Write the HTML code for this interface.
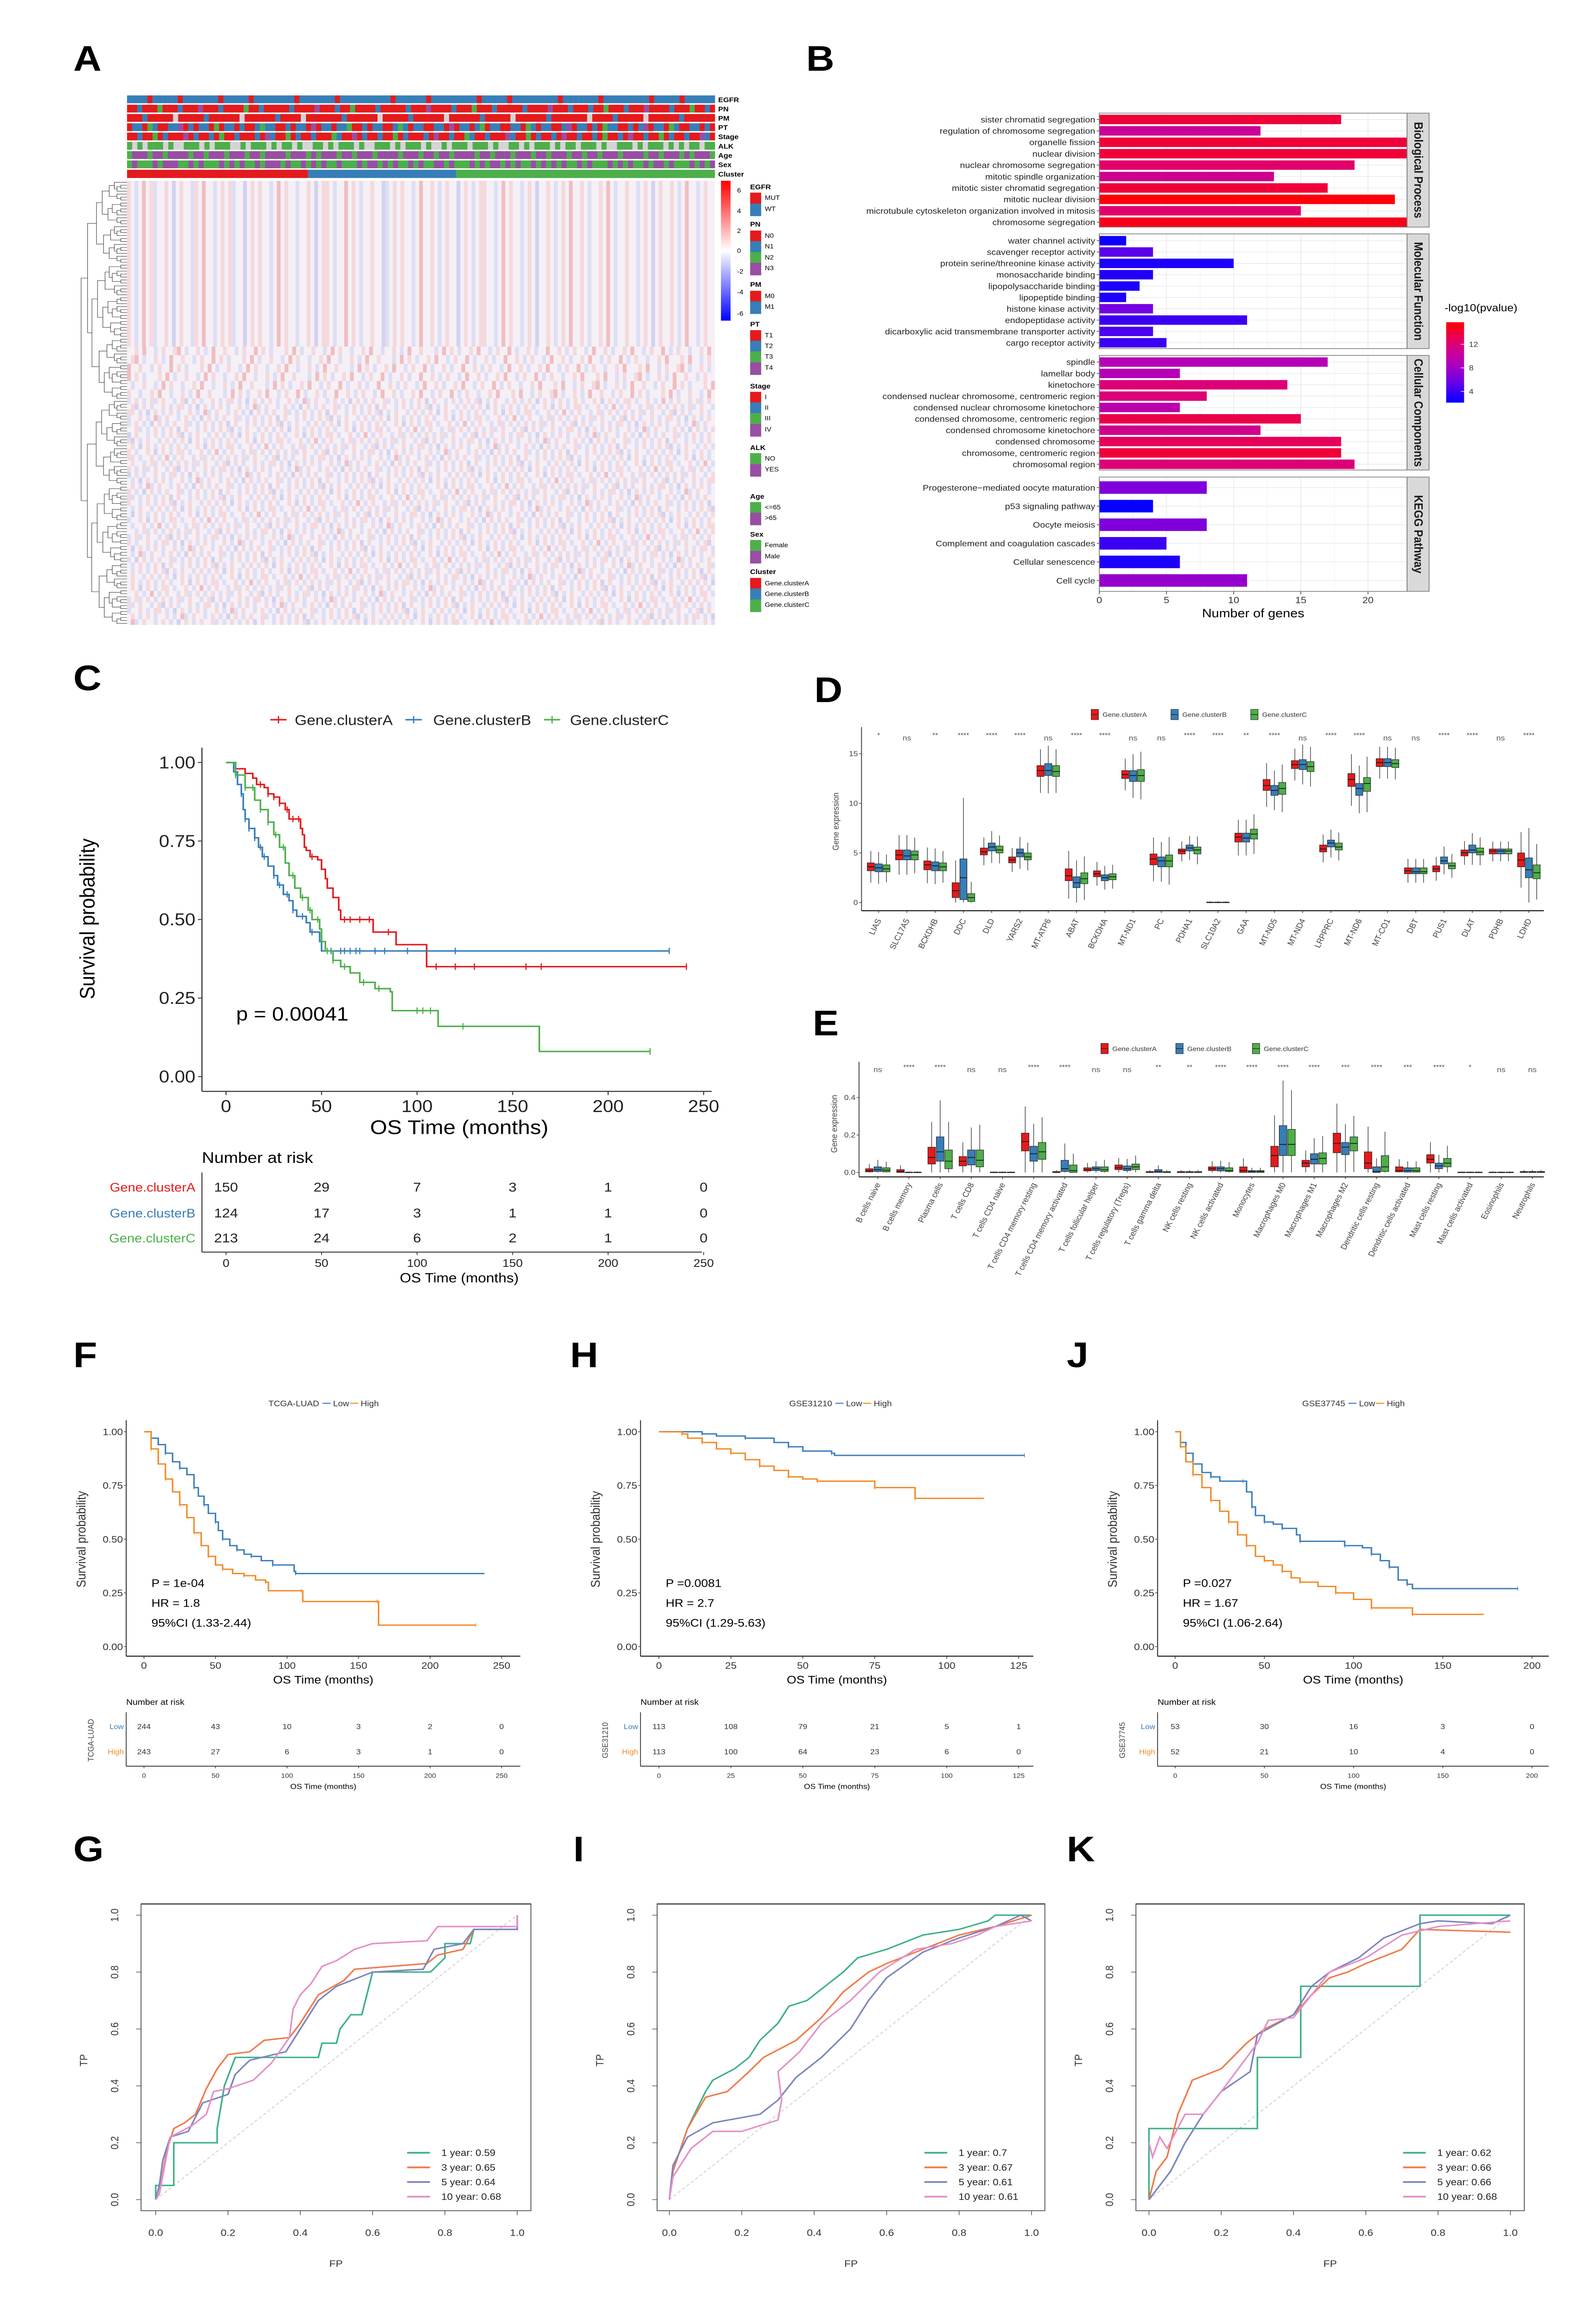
<!DOCTYPE html>
<html><head><meta charset="utf-8">
<style>
html,body{margin:0;padding:0;background:#fff;width:100%;height:100%;overflow:hidden}
svg{display:block;position:absolute;left:0;top:0;width:100vw;height:100vh}
text{font-family:"Liberation Sans",sans-serif}
</style></head>
<body>
<svg id="fig" xmlns="http://www.w3.org/2000/svg" width="100%" height="100%" viewBox="0 0 980 1567" preserveAspectRatio="none">
<defs>
<linearGradient id="hmGrad" x1="0" y1="0" x2="0" y2="1">
<stop offset="0" stop-color="#ff0000"/><stop offset="0.5" stop-color="#ffffff"/><stop offset="1" stop-color="#0000ff"/>
</linearGradient>
<linearGradient id="pvGrad" x1="0" y1="0" x2="0" y2="1">
<stop offset="0" stop-color="#ff0000"/><stop offset="0.25" stop-color="#e00070"/><stop offset="0.5" stop-color="#b400b8"/><stop offset="0.75" stop-color="#6a00e8"/><stop offset="1" stop-color="#0000ff"/>
</linearGradient>
</defs>
<rect x="0" y="0" width="980" height="1567" fill="#ffffff"/>
</svg>
<script>
// ================= DATA =================
// Panel A annotations
const annRows=['EGFR','PN','PM','PT','Stage','ALK','Age','Sex'];
const annCodes=[
"bbbbrbbbbbrbbbbbbbrbbbbbrbbbbbbbbrbbbbbbbrbbbbbbbbbbrbbbbbbrbbbbbbbbbrbbbbbrbbbbbbbbbrbbbbbbbrbbbbbbbbbrbbbbbrbbbbbb",
"rrbrrrgrrrbrrrprrrbrrrrgrrbrrrrrbrrrrprrrbrrgrrrrbrrrrrbrrrprrrrbrrrgrrrbrrrrrbrrrrprrrbrrrbrrgrrrbrrrprrrrbrrrgrrbr",
"rrrbrrrrrwrrrrrbrrrrrrwrrrrrrbrrrrwrrrrrrrbrrrrrrwrrrrrbrrrrrrwrrrrrrbrrrrrwrrrrrrbrrrrrrrwrrrrbrrrrrwrrrrrrbrrrrrr",
"rbbrgbrrbbprbrbbrgrbbrbrrbgbbrrbrbbrprbbrbbgrrbrbbrrbgbrbbrrbbrprbbrbgrbbrrbbrgbrbbrrbprbbrbrgbbrrbrbprbbrgbrrbbrbr",
"rrbrrgrbrrrprbrrbrgrrbrrrbrpbrrgrbrrbrrrgbrrprbrrbrrgrbrrrbrprrbrrgbrrbrrrpbrrgrbrrbrprrbrrbrgrrbrprrbrrgrbrrbrrpbr",
"gwgwgggwgwwgggwgwgggwwgwgggwgwggwgwwggwgwgggwgwwgggwgwgggwgwwgwgggwgggwgwwggwgwgggwgwggwgggwgwwgggwgwgggwgwgwggwgg",
"gpppgppgppppgppgpppgpppgppgppppgpppgpgpppgppgpppgppppgpppgppgppgppppgppgpppgpppgppgpppgppgppgpppgppppgppgpppgpgpppg",
"gpgggpgpppggpgpgggpgpgpggpgpppgpggpgpgpggpgggpgppgpgpggpgpggppgpgggpgpgppgpgpggpgpgpgpggpgpgggpgpgpggpgppgpgggpgpgp"
];
const clusterSplits=[0,0.308,0.56,1];
// heatmap texture (column tint codes, not readable data)
const hmBandA="r.b.R.rb..r.B.r..br.R..b.r.rb..B.r.r..b.R.r..b..r.B.rr.b..R.r.b..r..Bb.r.r..b.R..r.b.r..B.r.b.rr..b.R.r..b.r.B..r.b.r.R..r.b..r.R.b..r..b.r.B.r..r.b.R..b.r..";
const hmBandB="..r.R..b.r..rR.b..r.b.R..r..b.r..R.r.b...r.R.b..r..b.R.r..b..r.R..b..r.b.R..r...b.R.r.b..r.R..b.r..R.b..r.b..R..r.b.r..b.R..r.b..r.R..b.r..R.b.r..b..r.R.";
const hmBandC="b.r.b.rb.r..b.rB.r.b..r.b.rr.b.B.r.b.r.b..r.b.Rb.r..b.r.b.B.r.b.r..rb.b.r.b.r.B.r..b.r.b.r.rB.b.r..b.r.b.r.B.r.b.r.b.r.b..r.B.r.b.rr.b..r.b.R.b.r..b.rb.r.";

// Panel B
const bpTerms=['sister chromatid segregation','regulation of chromosome segregation','organelle fission','nuclear division','nuclear chromosome segregation','mitotic spindle organization','mitotic sister chromatid segregation','mitotic nuclear division','microtubule cytoskeleton organization involved in mitosis','chromosome segregation'];
const bpCounts=[18,12,23,23,19,13,17,22,15,23];
const bpLogp=[14,10.5,14,14,12.5,11,14,15.5,12.5,15];
const mfTerms=['water channel activity','scavenger receptor activity','protein serine/threonine kinase activity','monosaccharide binding','lipopolysaccharide binding','lipopeptide binding','histone kinase activity','endopeptidase activity','dicarboxylic acid transmembrane transporter activity','cargo receptor activity'];
const mfCounts=[2,4,10,4,3,2,4,11,4,5];
const mfLogp=[2.5,5,3,3.2,3,3,6,4,4.5,4];
const ccTerms=['spindle','lamellar body','kinetochore','condensed nuclear chromosome, centromeric region','condensed nuclear chromosome kinetochore','condensed chromosome, centromeric region','condensed chromosome kinetochore','condensed chromosome','chromosome, centromeric region','chromosomal region'];
const ccCounts=[17,6,14,8,6,15,12,18,18,19];
const ccLogp=[9,9,12,12,9.5,13.5,11,13,14,12];
const keggTerms=['Progesterone\u2212mediated oocyte maturation','p53 signaling pathway','Oocyte meiosis','Complement and coagulation cascades','Cellular senescence','Cell cycle'];
const keggCounts=[8,4,8,5,6,11];
const keggLogp=[6.5,2.3,6.5,4,3,7.5];
const bTicks=[0,5,10,15,20];
const pvTicks=[4,8,12];

// Panel C
const cTicks=[0,50,100,150,200,250];
const cYTicks=[0,0.25,0.5,0.75,1];
const cA=[[0,1],[5,0.98],[10,0.965],[14,0.95],[16,0.93],[20,0.92],[22,0.9],[25,0.89],[28,0.87],[31,0.85],[33,0.82],[38,0.82],[39,0.79],[40,0.77],[41,0.73],[42,0.72],[44,0.7],[48,0.69],[50,0.66],[52,0.63],[53,0.6],[56,0.57],[59,0.53],[60,0.5],[76,0.5],[77,0.46],[88,0.46],[89,0.42],[104,0.42],[105,0.35],[241,0.35]];
const cB=[[0,1],[4,0.97],[6,0.93],[8,0.9],[9,0.85],[10,0.82],[12,0.79],[15,0.76],[17,0.73],[19,0.7],[22,0.67],[25,0.64],[27,0.61],[30,0.58],[33,0.56],[35,0.53],[37,0.51],[42,0.49],[44,0.46],[49,0.43],[50,0.4],[232,0.4]];
const cC=[[0,1],[5,0.96],[10,0.92],[15,0.88],[18,0.85],[22,0.81],[25,0.77],[28,0.73],[31,0.68],[33,0.64],[36,0.6],[39,0.57],[43,0.53],[45,0.5],[49,0.47],[50,0.43],[52,0.4],[56,0.37],[60,0.35],[65,0.33],[70,0.3],[78,0.28],[86,0.27],[87,0.21],[110,0.21],[111,0.16],[163,0.16],[164,0.08],[222,0.08]];
const cCensA=[18,22,25,28,32,35,38,45,62,65,70,75,85,110,120,130,157,165,241];
const cCensB=[8,10,12,15,18,20,25,28,32,35,40,45,55,60,62,65,68,70,78,83,95,120,232];
const cCensC=[5,10,14,18,22,26,30,35,40,44,48,53,56,62,72,80,100,103,107,124,222];
const cRiskA=[150,29,7,3,1,0];
const cRiskB=[124,17,3,1,1,0];
const cRiskC=[213,24,6,2,1,0];

// Panel D
const dGenes=['LIAS','SLC17A5','BCKDHB','DDC','DLD','YARS2','MT-ATP6','ABAT','BCKDHA','MT-ND1','PC','PDHA1','SLC10A2','GAA','MT-ND5','MT-ND4','LRPPRC','MT-ND6','MT-CO1','DBT','PUS1','DLAT','PDHB','LDHD'];
const dMedA=[3.6,4.8,3.8,1.2,5.1,4.3,13.3,2.7,2.9,12.9,4.4,5.2,0,6.6,11.8,13.9,5.4,12.4,14.1,3.2,3.4,5.0,5.2,4.3];
const dMedB=[3.5,4.7,3.7,2.5,5.6,5.0,13.3,2.0,2.5,12.8,4.2,5.5,0,6.5,11.3,13.9,6.0,11.5,14.1,3.1,4.2,5.3,5.2,3.3];
const dMedC=[3.4,4.8,3.6,0.5,5.3,4.6,13.2,2.4,2.6,12.8,4.2,5.3,0,6.9,11.5,13.7,5.6,12.0,14.0,3.1,3.7,5.1,5.2,3.0];
const dQ1A=[3.2,4.3,3.3,0.5,4.8,4.0,12.7,2.2,2.6,12.5,3.8,4.9,0,6.1,11.3,13.5,5.1,11.7,13.7,2.9,3.1,4.7,4.9,3.6];
const dQ3A=[4.0,5.3,4.2,2.0,5.5,4.6,13.8,3.4,3.2,13.3,4.9,5.4,0.05,7.0,12.4,14.3,5.8,13.0,14.5,3.5,3.7,5.3,5.4,5.0];
const dQ1B=[3.1,4.3,3.2,0.3,5.2,4.6,12.8,1.5,2.2,12.2,3.6,5.2,0,6.1,10.8,13.4,5.6,10.8,13.7,2.9,3.9,5.0,4.9,2.5];
const dQ3B=[3.9,5.3,4.1,4.4,6.0,5.4,14.0,2.6,2.8,13.3,4.6,5.8,0.05,7.0,11.8,14.4,6.3,12.0,14.5,3.5,4.6,5.8,5.4,4.5];
const dQ1C=[3.1,4.3,3.2,0.1,5.0,4.3,12.7,1.9,2.3,12.2,3.6,4.9,0,6.4,10.9,13.2,5.3,11.2,13.6,2.9,3.4,4.8,4.9,2.4];
const dQ3C=[3.8,5.2,4.0,0.9,5.7,5.0,13.8,3.0,2.9,13.4,4.8,5.6,0.05,7.4,12.1,14.2,6.0,12.6,14.4,3.5,4.0,5.5,5.4,3.8];
const dSig=['*','ns','**','****','****','****','ns','****','****','ns','ns','****','****','**','****','ns','****','****','ns','ns','****','****','ns','****'];
const dTicks=[0,5,10,15];

// Panel E
const eCells=['B cells naive','B cells memory','Plasma cells','T cells CD8','T cells CD4 naive','T cells CD4 memory resting','T cells CD4 memory activated','T cells follicular helper','T cells regulatory (Tregs)','T cells gamma delta','NK cells resting','NK cells activated','Monocytes','Macrophages M0','Macrophages M1','Macrophages M2','Dendritic cells resting','Dendritic cells activated','Mast cells resting','Mast cells activated','Eosinophils','Neutrophils'];
const eMedA=[0.01,0.005,0.08,0.06,0,0.165,0,0.015,0.025,0,0,0.02,0.01,0.09,0.05,0.155,0.05,0.01,0.07,0,0,0.002];
const eMedB=[0.015,0,0.11,0.08,0,0.10,0.02,0.02,0.02,0.005,0,0.02,0.005,0.15,0.07,0.135,0.005,0.01,0.035,0,0,0.002];
const eMedC=[0.012,0,0.06,0.065,0,0.11,0.01,0.015,0.03,0,0,0.01,0.005,0.15,0.075,0.155,0.03,0.01,0.05,0,0,0.002];
const eQ1A=[0.003,0,0.045,0.035,0,0.115,0,0.008,0.015,0,0,0.01,0,0.03,0.03,0.105,0.02,0.003,0.05,0,0,0];
const eQ3A=[0.02,0.015,0.135,0.085,0.002,0.21,0.005,0.025,0.04,0.005,0.005,0.03,0.03,0.14,0.065,0.21,0.11,0.03,0.095,0.002,0.002,0.005];
const eQ1B=[0.005,0,0.06,0.04,0,0.06,0.005,0.01,0.01,0,0,0.008,0,0.09,0.045,0.095,0,0.002,0.02,0,0,0];
const eQ3B=[0.03,0.002,0.19,0.12,0.002,0.14,0.065,0.03,0.035,0.015,0.005,0.03,0.01,0.25,0.1,0.16,0.03,0.025,0.05,0.002,0.002,0.005];
const eQ1C=[0.003,0,0.02,0.03,0,0.07,0,0.005,0.015,0,0,0.005,0,0.09,0.045,0.115,0.005,0.002,0.03,0,0,0];
const eQ3C=[0.025,0.002,0.12,0.12,0.002,0.16,0.04,0.03,0.045,0.005,0.005,0.025,0.01,0.23,0.105,0.19,0.09,0.025,0.075,0.002,0.002,0.005];
const eSig=['ns','****','****','ns','ns','****','****','ns','ns','**','**','****','****','****','****','***','****','***','****','*','ns','ns'];
const eTicks=[0,0.2,0.4];

// Panels F/H/J
const fLow=[[0,1],[5,0.97],[10,0.94],[15,0.9],[20,0.86],[25,0.83],[30,0.8],[35,0.74],[38,0.7],[42,0.66],[45,0.62],[50,0.58],[52,0.54],[55,0.5],[60,0.47],[65,0.45],[70,0.43],[75,0.42],[82,0.4],[90,0.38],[105,0.35],[106,0.34],[238,0.34]];
const fHigh=[[0,1],[5,0.92],[10,0.85],[15,0.78],[20,0.72],[25,0.66],[30,0.6],[35,0.53],[40,0.47],[45,0.42],[50,0.38],[55,0.36],[62,0.34],[70,0.33],[78,0.31],[85,0.3],[87,0.26],[110,0.26],[111,0.21],[163,0.21],[164,0.1],[232,0.1]];
const hLow=[[0,1],[15,0.99],[20,0.98],[30,0.97],[40,0.95],[45,0.93],[50,0.91],[60,0.9],[61,0.89],[127,0.89]];
const hHigh=[[0,1],[8,0.99],[10,0.97],[15,0.95],[20,0.92],[25,0.9],[30,0.87],[35,0.84],[40,0.82],[45,0.79],[50,0.78],[55,0.77],[70,0.77],[75,0.74],[88,0.74],[89,0.69],[113,0.69]];
const jLow=[[0,1],[3,0.95],[6,0.9],[10,0.85],[15,0.81],[20,0.79],[25,0.77],[38,0.77],[40,0.72],[43,0.65],[45,0.61],[50,0.58],[55,0.57],[60,0.55],[68,0.52],[70,0.49],[90,0.49],[95,0.47],[105,0.46],[110,0.43],[115,0.4],[120,0.37],[125,0.31],[130,0.29],[133,0.27],[192,0.27]];
const jHigh=[[0,1],[3,0.93],[6,0.86],[10,0.8],[15,0.74],[20,0.68],[25,0.63],[30,0.58],[35,0.52],[40,0.47],[45,0.42],[50,0.4],[55,0.38],[60,0.35],[65,0.32],[70,0.3],[80,0.28],[90,0.25],[100,0.22],[110,0.18],[130,0.18],[133,0.15],[173,0.15]];
const fTicks=[0,50,100,150,200,250];
const hTicks=[0,25,50,75,100,125];
const jTicks=[0,50,100,150,200];
const fRiskLow=[244,43,10,3,2,0];
const fRiskHigh=[243,27,6,3,1,0];
const hRiskLow=[113,108,79,21,5,1];
const hRiskHigh=[113,100,64,23,6,0];
const jRiskLow=[53,30,16,3,0];
const jRiskHigh=[52,21,10,4,0];
const kmYTicks=[0,0.25,0.5,0.75,1];

// Panels G/I/K
const gY1=[[0,0],[0,0.05],[0.05,0.05],[0.05,0.2],[0.17,0.2],[0.17,0.25],[0.19,0.4],[0.22,0.5],[0.45,0.5],[0.46,0.55],[0.5,0.55],[0.51,0.6],[0.54,0.65],[0.57,0.65],[0.6,0.8],[0.76,0.8],[0.8,0.85],[0.8,0.9],[0.87,0.9],[0.88,0.95],[1,0.95],[1,1]];
const gY3=[[0,0],[0.01,0.02],[0.03,0.17],[0.05,0.25],[0.08,0.27],[0.11,0.3],[0.14,0.39],[0.17,0.46],[0.2,0.51],[0.26,0.52],[0.3,0.56],[0.37,0.57],[0.4,0.62],[0.45,0.72],[0.52,0.77],[0.55,0.81],[0.75,0.83],[0.78,0.86],[0.85,0.88],[0.88,0.95],[1,0.95],[1,1]];
const gY5=[[0,0],[0.01,0.05],[0.02,0.14],[0.04,0.22],[0.09,0.24],[0.13,0.34],[0.2,0.37],[0.22,0.44],[0.26,0.49],[0.36,0.52],[0.41,0.62],[0.45,0.7],[0.5,0.75],[0.6,0.8],[0.74,0.81],[0.77,0.88],[0.85,0.9],[0.88,0.95],[1,0.95],[1,1]];
const gY10=[[0,0],[0.01,0.02],[0.04,0.22],[0.1,0.26],[0.14,0.3],[0.16,0.38],[0.2,0.39],[0.27,0.42],[0.32,0.48],[0.37,0.57],[0.38,0.67],[0.4,0.72],[0.43,0.76],[0.46,0.82],[0.5,0.84],[0.55,0.88],[0.6,0.9],[0.75,0.91],[0.78,0.96],[1,0.96],[1,1]];
const iY1=[[0,0],[0.01,0.1],[0.05,0.25],[0.1,0.38],[0.12,0.42],[0.18,0.46],[0.22,0.5],[0.25,0.56],[0.3,0.62],[0.33,0.68],[0.38,0.7],[0.43,0.75],[0.48,0.8],[0.52,0.85],[0.6,0.88],[0.7,0.93],[0.8,0.95],[0.88,0.98],[0.9,1],[1,1]];
const iY3=[[0,0],[0.01,0.1],[0.05,0.25],[0.1,0.36],[0.16,0.38],[0.22,0.45],[0.26,0.5],[0.35,0.56],[0.42,0.64],[0.48,0.73],[0.55,0.8],[0.6,0.83],[0.7,0.88],[0.8,0.93],[0.9,0.96],[1,1]];
const iY5=[[0,0],[0.01,0.12],[0.05,0.22],[0.12,0.27],[0.25,0.3],[0.3,0.35],[0.35,0.43],[0.42,0.5],[0.5,0.6],[0.55,0.7],[0.6,0.78],[0.7,0.87],[0.8,0.92],[0.9,0.96],[0.97,1],[1,0.98]];
const iY10=[[0,0],[0.01,0.08],[0.06,0.18],[0.12,0.24],[0.2,0.24],[0.3,0.28],[0.31,0.35],[0.3,0.45],[0.36,0.52],[0.42,0.62],[0.5,0.7],[0.58,0.8],[0.68,0.88],[0.78,0.9],[0.85,0.93],[0.9,0.96],[1,0.98]];
const kY1=[[0,0],[0,0.25],[0.3,0.25],[0.3,0.5],[0.42,0.5],[0.42,0.75],[0.75,0.75],[0.75,1],[1,1]];
const kY3=[[0,0],[0.02,0.1],[0.05,0.15],[0.08,0.3],[0.12,0.42],[0.2,0.46],[0.27,0.55],[0.32,0.6],[0.4,0.65],[0.45,0.72],[0.5,0.78],[0.55,0.8],[0.6,0.83],[0.7,0.88],[0.75,0.95],[1,0.94]];
const kY5=[[0,0],[0.03,0.05],[0.06,0.1],[0.1,0.2],[0.15,0.3],[0.2,0.38],[0.28,0.45],[0.3,0.58],[0.4,0.65],[0.45,0.75],[0.5,0.8],[0.58,0.85],[0.65,0.92],[0.75,0.97],[0.8,0.98],[0.95,0.97],[1,1]];
const kY10=[[0,0.2],[0.01,0.15],[0.03,0.22],[0.05,0.18],[0.1,0.3],[0.15,0.3],[0.2,0.38],[0.3,0.55],[0.33,0.63],[0.4,0.64],[0.45,0.72],[0.5,0.8],[0.6,0.85],[0.7,0.93],[0.8,0.96],[1,0.98]];
const gAuc=['0.59','0.65','0.64','0.68'];
const iAuc=['0.7','0.67','0.61','0.61'];
const kAuc=['0.62','0.66','0.66','0.68'];
const rocTicks=[0,0.2,0.4,0.6,0.8,1];

// ================= HELPERS =================
const NS='http://www.w3.org/2000/svg';
const svg=document.getElementById('fig');
function mk(tag,attrs,parent){const e=document.createElementNS(NS,tag);for(const k in attrs)e.setAttribute(k,attrs[k]);(parent||svg).appendChild(e);return e;}
function tx(str,x,y,size,attrs,parent){const e=mk('text',Object.assign({x:x,y:y,'font-size':size},attrs||{}),parent);e.textContent=str;return e;}
function grp(name,parent){const g=mk('g',{},parent);


return g;}
function letter(ch,x,y){const t=tx(ch,x,y,24,{'font-weight':'bold',fill:'#000'});

}
const CA='#e41a1c',CB='#377eb8',CG='#4daf4a',CP='#984ea3';

// ================= PANEL A =================
letter('A',45,48);
(function(){
 const gA=grp('panel-a-heatmap');
 const annColors={r:CA,b:CB,g:CG,p:CP,w:'#d4d4d4'};
 const hx0=78,hx1=439;
 annRows.forEach((nm,i)=>{
  const y=64.7+i*6.3; const s=annCodes[i]; const w=(hx1-hx0)/s.length;
  const row=grp('annotation-'+nm.toLowerCase(),gA);
  for(let j=0;j<s.length;j++){mk('rect',{x:hx0+j*w,y:y,width:w+0.06,height:5.3,fill:annColors[s[j]]},row);}
  const t=tx(nm,441,y+4.5,4.6,{'font-weight':'bold'},gA);
  
  
 });
 const cy=64.7+8*6.3; const ccols=[CA,CB,CG];
 for(let k=0;k<3;k++){const r=mk('rect',{x:hx0+clusterSplits[k]*(hx1-hx0),y:cy,width:(clusterSplits[k+1]-clusterSplits[k])*(hx1-hx0),height:5.6,fill:ccols[k]},gA);
  
  }
 const cl=tx('Cluster',441,cy+4.6,4.6,{'font-weight':'bold'},gA);
 
 
 const hy0=122.6,hy1=423.7;
 const base=mk('rect',{x:hx0,y:hy0,width:hx1-hx0,height:hy1-hy0,fill:'#f5f0f6'},gA);
 
 
 const tint={R:['#e86a6a',0.38],r:['#f2a8a8',0.32],b:['#b3bdf0',0.34],B:['#8593e6',0.32]};
 function band(str,y0,y1,sub,shift){
  const w=(hx1-hx0)/str.length; const h=(y1-y0)/sub;
  for(let s=0;s<sub;s++){for(let j=0;j<str.length;j++){const c=str[(j+s*shift)%str.length];if(c==='.')continue;
   mk('rect',{x:hx0+j*w,y:y0+s*h,width:w,height:h+0.05,fill:tint[c][0],'fill-opacity':tint[c][1]},gA);}}
 }
 band(hmBandA,122.6,235,1,0);
 band(hmBandB,235,270,6,11);
 band(hmBandC,270,423.7,40,13);
 const ck=mk('rect',{x:442.7,y:122.6,width:5.9,height:94.8,fill:'url(#hmGrad)'},gA);
 
 
 [['6',129],['4',143],['2',156.4],['0',170],['-2',184],['-4',198],['-6',212.5]].forEach(a=>tx(a[0],452.6,a[1]+1.5,4.3,{},gA));
 function ay(z){return (180+z*0.847)/3.524;}
 const leg=[['EGFR',315,null],['MUT',345,CA],['WT',376,CB],['PN',420,null],['N0',452,CA],['N1',482,CB],['N2',513,CG],['N3',543,CP],['PM',590,null],['M0',622,CA],['M1',652,CB],['PT',702,null],['T1',733,CA],['T2',763,CB],['T3',793,CG],['T4',824,CP],['Stage',877,null],['I',907,CA],['II',937,CB],['III',967,CG],['IV',998,CP],['ALK',1050,null],['NO',1080,CG],['YES',1111,CP],['Age',1188,null],['<=65',1218,CG],['>65',1248,CP],['Sex',1295,null],['Female',1325,CG],['Male',1356,CP],['Cluster',1400,null],['Gene.clusterA',1432,CA],['Gene.clusterB',1462,CB],['Gene.clusterC',1493,CG]];
 const lg=grp('annotation-legend',gA);
 leg.forEach(l=>{const y=ay(l[1]);
  if(l[2]===null){tx(l[0],460.6,y+1.6,4.6,{'font-weight':'bold'},lg);}
  else{mk('rect',{x:460.6,y:y-3.4,width:6.8,height:8.5,fill:l[2]},lg);tx(l[0],469.6,y+1.6,4.3,{},lg);}
 });
 const dg=grp('row-dendrogram',gA);
 const N=150; const splits=[0.49,0.38,0.55,0.45,0.6,0.35,0.5,0.42];
 function leafY(i){return hy0+(i+0.5)*(hy1-hy0)/N;}
 function node(lo,hi,d){
  if(hi-lo===1){return [leafY(lo),78,0];}
  let m=lo+Math.max(1,Math.round((hi-lo)*splits[d%8])); if(m>=hi)m=hi-1;
  const a=node(lo,m,d+1),b=node(m,hi,d+1);
  const h=Math.max(a[2],b[2])+0.6, hh=Math.max(h,3.9*Math.log2(hi-lo));
  const x=78-hh;
  mk('path',{d:'M'+a[1]+' '+a[0]+'H'+x+'V'+b[0]+'H'+b[1],fill:'none',stroke:'#333','stroke-width':0.3},dg);
  return [(a[0]+b[0])/2,x,hh];
 }
 node(0,N,0);
})();

// ================= PANEL B =================
letter('B',495,48);
(function(){
 const gB=grp('panel-b-enrichment');
 const x0=675, ux=8.25, xr=864;
 function xB(v){return Math.min(xr,x0+v*ux);}
 function colP(v){const t=Math.max(0,Math.min(1,(v-2.1)/(15.75-2.1)));const st=[[0,0,255],[106,0,232],[180,0,184],[224,0,112],[255,0,0]];const p=t*4;const i=Math.min(3,Math.floor(p));const f=p-i;const a=st[i],b=st[i+1];return 'rgb('+a.map((c,j)=>Math.round(c+(b[j]-c)*f)).join(',')+')';}
 const groups=[
  {name:'Biological Process',terms:bpTerms,counts:bpCounts,logp:bpLogp,y0:76.7,y1:154,first:81,step:7.74,bh:6.4},
  {name:'Molecular Function',terms:mfTerms,counts:mfCounts,logp:mfLogp,y0:158.6,y1:236.4,first:163.2,step:7.69,bh:6.4},
  {name:'Cellular Components',terms:ccTerms,counts:ccCounts,logp:ccLogp,y0:241,y1:318.7,first:245.5,step:7.7,bh:6.4},
  {name:'KEGG Pathway',terms:keggTerms,counts:keggCounts,logp:keggLogp,y0:323.5,y1:401,first:330.6,step:12.6,bh:8.5}
 ];
 groups.forEach(G=>{
  const gg=grp('facet-'+G.name.toLowerCase().replace(/ /g,'-'),gB);
  mk('rect',{x:x0,y:G.y0,width:xr-x0,height:G.y1-G.y0,fill:'#fff'},gg);
  for(let v=0;v<=22.5;v+=2.5){mk('line',{x1:xB(v),x2:xB(v),y1:G.y0,y2:G.y1,stroke:'#ebebeb','stroke-width':v%5===0?0.5:0.25},gg);}
  G.terms.forEach((t,i)=>{const y=G.first+i*G.step;
   mk('line',{x1:x0,x2:xr,y1:y,y2:y,stroke:'#ebebeb','stroke-width':0.5},gg);
   const r=mk('rect',{x:x0,y:y-G.bh/2,width:xB(G.counts[i])-x0,height:G.bh,fill:colP(G.logp[i])},gg);
   
   
   tx(t,x0-2.5,y+2,5.6,{'text-anchor':'end',fill:'#222'},gg);
   mk('line',{x1:x0-1.5,x2:x0,y1:y,y2:y,stroke:'#333','stroke-width':0.4},gg);
  });
  mk('rect',{x:x0,y:G.y0,width:xr-x0,height:G.y1-G.y0,fill:'none',stroke:'#7f7f7f','stroke-width':0.5},gg);
  const st=mk('rect',{x:xr,y:G.y0,width:13.5,height:G.y1-G.y0,fill:'#d9d9d9',stroke:'#7f7f7f','stroke-width':0.5},gg);
  
  
  const cx=xr+6.75, cyy=(G.y0+G.y1)/2;
  tx(G.name,cx,cyy,7.3,{'text-anchor':'middle','dominant-baseline':'central','font-weight':'bold',fill:'#1a1a1a',transform:'rotate(90 '+cx+' '+cyy+')'},gg);
 });
 const ax=grp('x-axis',gB);
 bTicks.forEach(v=>{mk('line',{x1:xB(v),x2:xB(v),y1:401,y2:403,stroke:'#333','stroke-width':0.4},ax);tx(String(v),xB(v),409,6.2,{'text-anchor':'middle',fill:'#333'},ax);});
 const xt=tx('Number of genes',769.5,418.5,8.2,{'text-anchor':'middle'},gB);
 
 
 const lg=grp('color-legend',gB);
 tx('-log10(pvalue)',887,211,7,{},lg);
 mk('rect',{x:888,y:218.5,width:11,height:54.5,fill:'url(#pvGrad)'},lg);
 pvTicks.forEach(v=>{const y=273-(v-2.1)/(15.75-2.1)*54.5; tx(String(v),902,y+1.8,5,{fill:'#333'},lg);
  mk('line',{x1:897,x2:899,y1:y,y2:y,stroke:'#fff','stroke-width':0.4},lg);});
})();

// ================= PANEL C =================
letter('C',45,468);
(function(){
 const gC=grp('panel-c-km');
 function xC(t){return 138.8+t*1.173;}
 function yC(s){return 730-s*213;}
 const lgd=grp('legend',gC);
 [['Gene.clusterA',CA,166,181],['Gene.clusterB',CB,249,266],['Gene.clusterC',CG,334,350]].forEach(l=>{
  mk('line',{x1:l[2],x2:l[2]+10,y1:488,y2:488,stroke:l[1],'stroke-width':1},lgd);
  mk('line',{x1:l[2]+5,x2:l[2]+5,y1:485.5,y2:490.5,stroke:l[1],'stroke-width':0.8},lgd);
  tx(l[0],l[3],491.5,9.5,{fill:'#222'},lgd);});
 mk('line',{x1:124,x2:124,y1:507,y2:740,stroke:'#333','stroke-width':0.7},gC);
 mk('line',{x1:124,x2:437,y1:740,y2:740,stroke:'#333','stroke-width':0.7},gC);
 cYTicks.forEach(v=>{mk('line',{x1:121.5,x2:124,y1:yC(v),y2:yC(v),stroke:'#333','stroke-width':0.6},gC);tx(v.toFixed(2),120,yC(v)+4,11.5,{'text-anchor':'end',fill:'#222'},gC);});
 cTicks.forEach(v=>{mk('line',{x1:xC(v),x2:xC(v),y1:740,y2:742.5,stroke:'#333','stroke-width':0.6},gC);tx(String(v),xC(v),754,11.5,{'text-anchor':'middle',fill:'#222'},gC);});
 const xt=tx('OS Time (months)',282,769,13.5,{'text-anchor':'middle'},gC);
 
 
 const yt=tx('Survival probability',58,623,13,{'text-anchor':'middle',transform:'rotate(-90 58 623)'},gC);
 
 
 function sAt(c,t){let s=c[0][1];for(const p of c){if(p[0]<=t)s=p[1];}return s;}
 [[cA,CA,cCensA,'a'],[cB,CB,cCensB,'b'],[cC,CG,cCensC,'c']].forEach(S=>{
  let d='M'+xC(S[0][0][0])+' '+yC(S[0][0][1]);
  for(let i=1;i<S[0].length;i++){d+='H'+xC(S[0][i][0])+'V'+yC(S[0][i][1]);}
  const p=mk('path',{d:d,fill:'none',stroke:S[1],'stroke-width':1},gC);
  
  
  S[2].forEach(t=>{const x=xC(t),y=yC(sAt(S[0],t));mk('line',{x1:x,x2:x,y1:y-2.2,y2:y+2.2,stroke:S[1],'stroke-width':0.7},gC);});
 });
 const pv=tx('p = 0.00041',145,692,13,{},gC);
 
 
 const rt=grp('risk-table',gC);
 tx('Number at risk',124,788.5,10.5,{},rt);
 mk('line',{x1:124,x2:124,y1:795,y2:849,stroke:'#333','stroke-width':0.6},rt);
 mk('line',{x1:124,x2:431,y1:849,y2:849,stroke:'#333','stroke-width':0.6},rt);
 [['Gene.clusterA',CA,cRiskA,805],['Gene.clusterB',CB,cRiskB,822.5],['Gene.clusterC',CG,cRiskC,839.5]].forEach(r=>{
  tx(r[0],120,r[3]+3,8.3,{'text-anchor':'end',fill:r[1]},rt);
  r[2].forEach((n,i)=>tx(String(n),xC(cTicks[i]),r[3]+3,8.8,{'text-anchor':'middle',fill:'#222'},rt));});
 cTicks.forEach(v=>{mk('line',{x1:xC(v),x2:xC(v),y1:849,y2:851,stroke:'#333','stroke-width':0.5},rt);tx(String(v),xC(v),859,7.5,{'text-anchor':'middle',fill:'#222'},rt);});
 tx('OS Time (months)',282,869.5,9,{'text-anchor':'middle'},rt);
})();

// ================= BOXPLOT HELPER =================
function boxPanel(cfg){
 const g=grp(cfg.name);
 const cols=[CA,CB,CG];
 const lg=grp('legend',g);
 ['Gene.clusterA','Gene.clusterB','Gene.clusterC'].forEach((n,k)=>{const x=cfg.legX[k];
  mk('rect',{x:x,y:cfg.legY-3.5,width:4.5,height:7,fill:cols[k],stroke:'#222','stroke-width':0.3},lg);
  mk('line',{x1:x,x2:x+4.5,y1:cfg.legY,y2:cfg.legY,stroke:'#222','stroke-width':0.4},lg);
  tx(n,x+7,cfg.legY+1.6,4.3,{fill:'#333'},lg);});
 mk('line',{x1:cfg.axX,x2:cfg.axX,y1:cfg.axTop,y2:cfg.axY,stroke:'#333','stroke-width':0.5},g);
 mk('line',{x1:cfg.axX,x2:cfg.axRight,y1:cfg.axY,y2:cfg.axY,stroke:'#333','stroke-width':0.8},g);
 cfg.ticks.forEach(v=>{const y=cfg.y(v);mk('line',{x1:cfg.axX-1.5,x2:cfg.axX,y1:y,y2:y,stroke:'#333','stroke-width':0.4},g);
  tx(cfg.tickFmt(v),cfg.axX-2.2,y+1.7,5,{'text-anchor':'end',fill:'#444'},g);});
 const yt=tx('Gene expression',cfg.ytX,cfg.ytY,5.2,{'text-anchor':'middle',fill:'#444',transform:'rotate(-90 '+cfg.ytX+' '+cfg.ytY+')'},g);
 
 
 const meds=[cfg.medA,cfg.medB,cfg.medC],q1s=[cfg.q1A,cfg.q1B,cfg.q1C],q3s=[cfg.q3A,cfg.q3B,cfg.q3C];
 cfg.cats.forEach((c,i)=>{
  const cx=cfg.x0+i*cfg.dx;
  const cg=grp('box-group-'+c.replace(/[^a-zA-Z0-9]+/g,'-').toLowerCase(),g);
  for(let k=0;k<3;k++){
   const bx=cx+(k-1)*cfg.off, q1=q1s[k][i],q3=q3s[k][i],md=meds[k][i],iqr=q3-q1;
   const lo=Math.max(cfg.minV,q1-1.5*iqr), hi=q3+1.5*iqr;
   mk('line',{x1:bx,x2:bx,y1:cfg.y(hi),y2:cfg.y(lo),stroke:'#222','stroke-width':0.35},cg);
   const r=mk('rect',{x:bx-cfg.bw/2,y:cfg.y(q3),width:cfg.bw,height:Math.max(0.4,cfg.y(q1)-cfg.y(q3)),fill:cols[k],stroke:'#222','stroke-width':0.35},cg);
   
   
   mk('line',{x1:bx-cfg.bw/2,x2:bx+cfg.bw/2,y1:cfg.y(md),y2:cfg.y(md),stroke:'#111','stroke-width':0.5},cg);
  }
  const s=cfg.sig[i];
  tx(s,cx,s==='ns'?cfg.sigY+2:cfg.sigY,s==='ns'?5:4.5,{'text-anchor':'middle',fill:'#555'},cg);
  mk('line',{x1:cx,x2:cx,y1:cfg.axY,y2:cfg.axY+1.5,stroke:'#333','stroke-width':0.4},cg);
  const lx=cx+1.8,ly=cfg.labY;
  tx(c,lx,ly,cfg.labSize,{'text-anchor':'end',fill:'#444',transform:'rotate(-65 '+lx+' '+ly+')'},cg);
 });
 return g;
}

// ================= PANEL D =================
letter('D',500,476);
boxPanel({name:'panel-d-boxplot',cats:dGenes,medA:dMedA,medB:dMedB,medC:dMedC,q1A:dQ1A,q3A:dQ3A,q1B:dQ1B,q3B:dQ3B,q1C:dQ1C,q3C:dQ3C,sig:dSig,ticks:dTicks,
 tickFmt:v=>String(v),y:v=>612-v*6.73,minV:0,x0:539.5,dx:17.36,off:4.8,bw:4.3,axX:529,axTop:493,axY:617.5,axRight:948,sigY:500,labY:624,labSize:5.2,
 legX:[670,719,768],legY:484.5,ytX:515,ytY:557});

// ================= PANEL E =================
letter('E',499,702);
boxPanel({name:'panel-e-boxplot',cats:eCells,medA:eMedA,medB:eMedB,medC:eMedC,q1A:eQ1A,q3A:eQ3A,q1B:eQ1B,q3B:eQ3B,q1C:eQ1C,q3C:eQ3C,sig:eSig,ticks:eTicks,
 tickFmt:v=>v.toFixed(1),y:v=>795-v*127,minV:0,x0:539,dx:19.14,off:5.2,bw:4.6,axX:527.5,axTop:720,axY:798,axRight:948,sigY:725,labY:803,labSize:5.2,
 legX:[676,722,769],legY:711,ytX:514,ytY:762});

// ================= KM (F/H/J) =================
const KL='#3b7dbd',KH='#f08a24';
function kmPanel(c){
 const g=grp(c.name);
 const xs=v=>c.x0+v*(c.x1-c.x0)/c.tmax;
 const ys=s=>1116.5-s*145.7;
 const lgd=grp('legend',g);
 tx(c.title,c.tx-14,953.5,5.4,{'text-anchor':'end',fill:'#333'},lgd);
 mk('line',{x1:c.tx-12,x2:c.tx-7,y1:951.5,y2:951.5,stroke:KL,'stroke-width':0.7},lgd);
 tx('Low',c.tx-5.5,953.5,5.4,{fill:'#333'},lgd);
 mk('line',{x1:c.tx+5,x2:c.tx+10,y1:951.5,y2:951.5,stroke:KH,'stroke-width':0.7},lgd);
 tx('High',c.tx+11.5,953.5,5.4,{fill:'#333'},lgd);
 mk('line',{x1:c.ax,x2:c.ax,y1:963,y2:1123,stroke:'#333','stroke-width':0.6},g);
 mk('line',{x1:c.ax,x2:c.axR,y1:1123,y2:1123,stroke:'#333','stroke-width':0.8},g);
 kmYTicks.forEach(v=>{mk('line',{x1:c.ax-1.5,x2:c.ax,y1:ys(v),y2:ys(v),stroke:'#333','stroke-width':0.4},g);tx(v.toFixed(2),c.ax-2,ys(v)+2.3,6.4,{'text-anchor':'end',fill:'#333'},g);});
 c.ticks.forEach(v=>{mk('line',{x1:xs(v),x2:xs(v),y1:1123,y2:1124.8,stroke:'#333','stroke-width':0.4},g);tx(String(v),xs(v),1131.5,6.4,{'text-anchor':'middle',fill:'#333'},g);});
 const xt=tx('OS Time (months)',(c.ax+c.axR)/2,1141.5,7.6,{'text-anchor':'middle'},g);
 
 
 const yx=c.ax-25;
 const yt=tx('Survival probability',yx,1043.7,7.8,{'text-anchor':'middle',fill:'#333',transform:'rotate(-90 '+yx+' 1043.7)'},g);
 
 
 [[c.low,KL,'low'],[c.high,KH,'high']].forEach(S=>{
  let d='M'+xs(S[0][0][0])+' '+ys(S[0][0][1]);
  for(let i=1;i<S[0].length;i++)d+='H'+xs(S[0][i][0])+'V'+ys(S[0][i][1]);
  const p=mk('path',{d:d,fill:'none',stroke:S[1],'stroke-width':0.9},g);
  
  
  for(let i=1;i<S[0].length;i+=2){const x=xs(S[0][i][0]),y=ys(S[0][i][1]);mk('line',{x1:x,x2:x,y1:y-1.3,y2:y+1.3,stroke:S[1],'stroke-width':0.4},g);}
 });
 const st=grp('stats-text',g);
 tx(c.p,c.ax+15.5,1076,7.5,{},st);
 tx(c.hr,c.ax+15.5,1089.5,7.5,{},st);
 tx(c.ci,c.ax+15.5,1103,7.5,{},st);
 const rt=grp('risk-table',g);
 tx('Number at risk',c.ax,1156,5.5,{},rt);
 mk('line',{x1:c.ax,x2:c.ax,y1:1161,y2:1197.6,stroke:'#333','stroke-width':0.5},rt);
 mk('line',{x1:c.ax,x2:c.axR,y1:1197.6,y2:1197.6,stroke:'#333','stroke-width':0.6},rt);
 tx('Low',c.ax-1.5,1172.5,4.8,{'text-anchor':'end',fill:KL},rt);
 tx('High',c.ax-1.5,1189.5,4.8,{'text-anchor':'end',fill:KH},rt);
 const vx=c.ax-20;
 tx(c.row,vx,1180,5,{'text-anchor':'middle',fill:'#444',transform:'rotate(-90 '+vx+' 1180)'},rt);
 c.ticks.forEach((v,i)=>{tx(String(c.rlow[i]),xs(v),1172.5,5,{'text-anchor':'middle',fill:'#333'},rt);
  tx(String(c.rhigh[i]),xs(v),1189.5,5,{'text-anchor':'middle',fill:'#333'},rt);
  mk('line',{x1:xs(v),x2:xs(v),y1:1197.6,y2:1199,stroke:'#333','stroke-width':0.4},rt);
  tx(String(v),xs(v),1205.5,4.4,{'text-anchor':'middle',fill:'#333'},rt);});
 tx('OS Time (months)',(c.ax+c.axR)/2,1213,5,{'text-anchor':'middle'},rt);
}
letter('F',45,927);
kmPanel({name:'panel-f-km',title:'TCGA-LUAD',tx:210,x0:88.4,x1:308,tmax:250,ax:77.5,axR:319.5,ticks:fTicks,low:fLow,high:fHigh,p:'P = 1e-04',hr:'HR = 1.8',ci:'95%CI (1.33-2.44)',row:'TCGA-LUAD',rlow:fRiskLow,rhigh:fRiskHigh});
letter('H',350,927);
kmPanel({name:'panel-h-km',title:'GSE31210',tx:525,x0:404.6,x1:625.5,tmax:125,ax:393.3,axR:634.5,ticks:hTicks,low:hLow,high:hHigh,p:'P =0.0081',hr:'HR = 2.7',ci:'95%CI (1.29-5.63)',row:'GSE31210',rlow:hRiskLow,rhigh:hRiskHigh});
letter('J',655,927);
kmPanel({name:'panel-j-km',title:'GSE37745',tx:840,x0:721.6,x1:940.7,tmax:200,ax:710.8,axR:951,ticks:jTicks,low:jLow,high:jHigh,p:'P =0.027',hr:'HR = 1.67',ci:'95%CI (1.06-2.64)',row:'GSE37745',rlow:jRiskLow,rhigh:jRiskHigh});

// ================= ROC (G/I/K) =================
const RC=['#3fb08c','#f07a4a','#7b86bf','#e58fc7'];
function rocPanel(c){
 const g=grp(c.name);
 const fx=v=>c.x0+v*(c.x1-c.x0);
 const fy=v=>1491.5-v*192.9;
 const fr=mk('rect',{x:c.fl,y:1291,width:c.fr-c.fl,height:208,fill:'none',stroke:'#666','stroke-width':0.6},g);
 
 
 mk('line',{x1:c.fl,x2:c.fr,y1:1291,y2:1291,stroke:'#444','stroke-width':0.8},g);
 mk('line',{x1:fx(0),y1:fy(0),x2:fx(1),y2:fy(1),stroke:'#bbb','stroke-width':0.4,'stroke-dasharray':'2 1.5'},g);
 rocTicks.forEach(v=>{
  mk('line',{x1:fx(v),x2:fx(v),y1:1499,y2:1502,stroke:'#444','stroke-width':0.4},g);
  tx(v.toFixed(1),fx(v),1516,6.5,{'text-anchor':'middle',fill:'#333'},g);
  mk('line',{x1:c.fl-3,x2:c.fl,y1:fy(v),y2:fy(v),stroke:'#444','stroke-width':0.4},g);
  const lx=c.fl-14;
  tx(v.toFixed(1),lx,fy(v),6.5,{'text-anchor':'middle',fill:'#333',transform:'rotate(-90 '+lx+' '+fy(v)+')'},g);
 });
 const xt=tx('FP',(c.fl+c.fr)/2,1537,6.5,{'text-anchor':'middle',fill:'#333'},g);
 
 
 const yx=c.fl-33;
 const yt=tx('TP',yx,1397,6.5,{'text-anchor':'middle',fill:'#333',transform:'rotate(-90 '+yx+' 1397)'},g);
 
 
 const yrs=['1 year','3 year','5 year','10 year'];
 c.curves.forEach((cv,k)=>{
  let d='';cv.forEach((p,i)=>{d+=(i?'L':'M')+fx(p[0]).toFixed(2)+' '+fy(p[1]).toFixed(2);});
  const p=mk('path',{d:d,fill:'none',stroke:RC[k],'stroke-width':1},g);
  
  
 });
 const lg=grp('legend',g);
 yrs.forEach((y,k)=>{const yy=1459.7+k*9.93;
  mk('line',{x1:c.lx,x2:c.lx+14,y1:yy,y2:yy,stroke:RC[k],'stroke-width':1.2},lg);
  tx(y+': '+c.auc[k],c.lx+21,yy+2.2,6.3,{fill:'#222'},lg);});
}
letter('G',45,1262);
rocPanel({name:'panel-g-roc',fl:86.6,fr:326,x0:95.6,x1:317.6,curves:[gY1,gY3,gY5,gY10],auc:gAuc,lx:250});
letter('I',352,1262);
rocPanel({name:'panel-i-roc',fl:403.5,fr:641.6,x0:411,x1:633.4,curves:[iY1,iY3,iY5,iY10],auc:iAuc,lx:567.6});
letter('K',655,1262);
rocPanel({name:'panel-k-roc',fl:697.5,fr:936,x0:705.5,x1:927.4,curves:[kY1,kY3,kY5,kY10],auc:kAuc,lx:861.5});
</script>
</body></html>
